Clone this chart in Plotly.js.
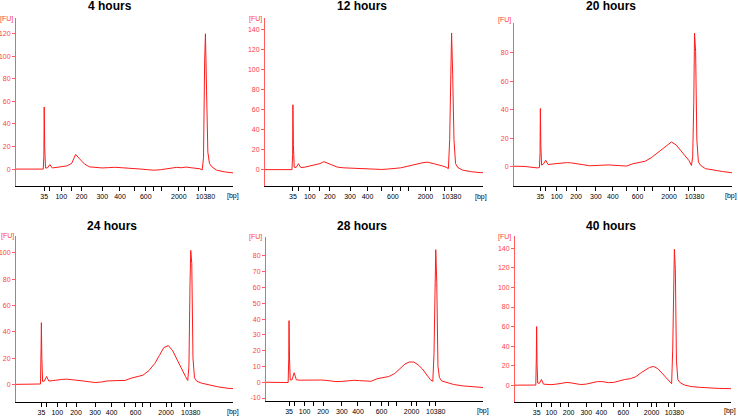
<!DOCTYPE html>
<html>
<head>
<meta charset="utf-8">
<script src="https://cdn.plot.ly/plotly-3.0.1.min.js"></script>
<style>html,body{margin:0;padding:0;background:#fff}#chart{width:738px;height:418px}</style>
</head>
<body>
<div id="chart"></div>
<script>
// Panel titles
const titles = ["4 hours", "12 hours", "20 hours", "24 hours", "28 hours", "40 hours"];

// Ladder (bp) tick labels and their migration positions (35 bp = 0, 10380 bp = 100)
const ladderPos  = [0, 3.5, 10.6, 17, 23.2, 36, 47, 55.7, 63, 67.6, 73, 83.5, 87, 95.8, 100];
const ladderText = ["35", "", "100", "", "200", "300", "400", "", "600", "", "", "2000", "", "", "10380"];

// Y tick values [FU] per panel
const yTicks4h  = [0, 20, 40, 60, 80, 100, 120];
const yTicks12h = [0, 20, 40, 60, 80, 100, 120, 140];
const yTicks20h = [0, 20, 40, 60, 80];
const yTicks24h = [0, 20, 40, 60, 80, 100];
const yTicks28h = [-10, 0, 10, 20, 30, 40, 50, 60, 70, 80];
const yTicks40h = [0, 20, 40, 60, 80, 100, 120, 140];
const yTicks = [yTicks4h, yTicks12h, yTicks20h, yTicks24h, yTicks28h, yTicks40h];

// Migration position of each sample point (shared by all panels)
const migration = [-18, -10, -2, -0.6, -0.2, 0, 0.3, 0.8, 2, 3.5,
  5, 7.5, 10.5, 14, 17, 19.5, 22, 25, 28, 32,
  36, 40, 44, 48, 52, 56, 60, 64, 68, 72,
  76, 79, 82, 85, 88, 91, 94, 96.5, 98, 98.8,
  99.5, 100, 100.7, 101.5, 102.5, 104, 107, 112, 118, 125,
  133, 142];

// Fluorescence [FU] for each panel
const fu4h = [0, 0, -0.2, 0, 12, 55, 20, 1, 1, 4,
  1, 1.5, 2, 2.8, 5, 13, 9, 4.5, 2, 1.2,
  1, 1.3, 1.6, 1.2, 0.6, 0.3, 0, -0.5, -1, -0.6,
  0, 0.8, 1.5, 1.2, 1.8, 1.2, 0.8, 0.3, -0.8, 10,
  95, 120, 70, 15, 5, 2, -1, -2.5, -3.5, -4,
  -4, -4];
const fu12h = [0, 0.2, 0, 0, 15, 65, 25, 2.5, 2, 6,
  2, 2.5, 3.7, 4.5, 6, 8, 6.5, 4, 2.5, 1.8,
  1.5, 1.2, 1, 0.8, 0.5, 0.2, 0.6, 1, 1.8, 3.3,
  5, 6, 7, 7.5, 6.4, 5.2, 3.8, 2.5, 1, 30,
  100, 137, 95, 30, 6, 2, -0.5, -2, -3, -3.2,
  -3.2, -3.2];
const fu20h = [0.5, 0.3, -0.7, -0.5, 10, 41, 15, 1.2, 2, 4.7,
  1.6, 2, 2.4, 2.7, 3, 2.9, 2.6, 2.2, 1.5, 0.8,
  0.8, 1.2, 1.4, 1.3, 1, 0.6, 2.2, 3, 4, 6.5,
  10, 12.8, 15.5, 17.5, 15.5, 11.5, 7.5, 4.3, 1, 7,
  45, 94, 81, 19, 3.5, 1, -1.2, -2.2, -3.2, -4.2,
  -4.5, -4.5];
const fu24h = [0, 0, 0.2, 0.3, 28, 47, 20, 2.3, 2.5, 6,
  2.5, 3, 3.5, 3.8, 4, 3.8, 3.4, 3, 2.6, 2,
  1.4, 1.8, 2.6, 2.8, 2.7, 3, 4.7, 5.8, 7, 10.5,
  16, 22, 28, 29.5, 25.5, 18.5, 11, 6, 3, 14,
  75, 102, 92, 20, 5, 2.5, 1, -0.5, -1.8, -3,
  -3.8, -4];
const fu28h = [0, 0, -0.2, -0.2, 15, 39, 16, 1.5, 1.5, 6,
  1.5, 1.3, 1.3, 1.5, 1.7, 1.6, 1.4, 1.2, 0.8, 0.4,
  0.5, 0.8, 1.2, 1, 0.6, 0.6, 2.2, 3, 3.6, 5.5,
  9, 11.5, 12.8, 12.8, 11, 8.3, 4.5, 1.5, 0.6, 18,
  57, 84, 63, 10, 3, 0.8, 0, -1.4, -2.3, -3,
  -3.4, -3.4];
const fu40h = [0.2, 0.3, 0.3, 0.3, 30, 60, 22, 2.4, 2, 6,
  1.2, 0.8, 0.7, 1.2, 2, 2.8, 3, 2.5, 1.5, 0.8,
  1.3, 2.4, 3.8, 3.8, 2.8, 3, 4.8, 6, 6.8, 8.8,
  13, 16, 18.3, 19.3, 17, 12.5, 7.5, 4, 1.7, 37,
  112, 139, 118, 25, 6, 3, 0.5, -1.2, -2, -2.8,
  -3.2, -3.4];
const series = [fu4h, fu12h, fu20h, fu24h, fu28h, fu40h];

// Layout geometry per panel (pixels)
const W = 738, H = 418;
const boxes = [
  {l: 16, r: 233, t: 18, b: 186, xr: [-17.5, 117.1], yr: [-15, 134], tx: 110, ty: 6, fx: 6.5, fy: 19.5, bx: 232.5, by: 196},
  {l: 265, r: 483, t: 18, b: 186, xr: [-17.6, 119.8], yr: [-16.4, 152], tx: 362, ty: 6, fx: 255, fy: 19.5, bx: 481, by: 196.5},
  {l: 514, r: 732, t: 23, b: 186, xr: [-17.1, 124.3], yr: [-13.4, 101], tx: 611, ty: 6, fx: 504, fy: 20, bx: 731, by: 196},
  {l: 16, r: 233, t: 236, b: 402, xr: [-17.0, 128.3], yr: [-13.4, 112.9], tx: 112, ty: 225.5, fx: 7, fy: 236, bx: 232.5, by: 411.5},
  {l: 266, r: 483, t: 237, b: 401, xr: [-15.7, 132.2], yr: [-11.9, 92], tx: 362, ty: 226, fx: 255.5, fy: 236.5, bx: 483, by: 410.5},
  {l: 515, r: 731, t: 236, b: 402, xr: [-15.7, 141.1], yr: [-17, 152.5], tx: 611, ty: 226, fx: 504, fy: 236.5, bx: 730, by: 411}
];

const tickFont = "Liberation Sans Narrow, Arial Narrow, Liberation Sans, Arial, sans-serif";
const data = [];
const layout = {
  width: W, height: H,
  margin: {l: 0, r: 0, t: 0, b: 0},
  paper_bgcolor: "#ffffff", plot_bgcolor: "#ffffff",
  showlegend: false,
  annotations: []
};

boxes.forEach((b, i) => {
  const n = i === 0 ? "" : String(i + 1);
  data.push({
    type: "scatter", mode: "lines",
    x: migration, y: series[i],
    xaxis: "x" + n, yaxis: "y" + n,
    line: {color: "#ff1a1a", width: 1},
    hoverinfo: "skip"
  });
  layout["xaxis" + n] = {
    domain: [b.l / W, b.r / W], range: b.xr, anchor: "y" + n,
    tickmode: "array", tickvals: ladderPos, ticktext: ladderText,
    showline: true, linecolor: "#000000", linewidth: 1,
    ticks: "outside", ticklen: 4, tickcolor: "#000000", tickwidth: 1,
    tickfont: {family: tickFont, size: 7, color: "#000000"},
    showgrid: false, zeroline: false, fixedrange: true
  };
  layout["yaxis" + n] = {
    domain: [1 - b.b / H, 1 - b.t / H], range: b.yr, anchor: "x" + n,
    tickmode: "array", tickvals: yTicks[i], ticktext: yTicks[i].map(String),
    showline: true, linecolor: "#ff5c5c", linewidth: 1,
    ticks: "outside", ticklen: 3, tickcolor: "#ff5c5c", tickwidth: 1,
    tickfont: {family: tickFont, size: 7, color: "#ff4040"},
    showgrid: false, zeroline: false, fixedrange: true
  };
  layout.annotations.push({
    text: "<b>" + titles[i] + "</b>", xref: "paper", yref: "paper",
    x: b.tx / W, y: 1 - b.ty / H, xanchor: "center", yanchor: "middle",
    showarrow: false, font: {family: "Liberation Sans, Arial, sans-serif", size: 12, color: "#000000"}
  });
  layout.annotations.push({
    text: "[FU]", xref: "paper", yref: "paper",
    x: b.fx / W, y: 1 - b.fy / H, xanchor: "center", yanchor: "middle",
    showarrow: false, font: {family: tickFont, size: 7, color: "#ff4040"}
  });
  layout.annotations.push({
    text: "[bp]", xref: "paper", yref: "paper",
    x: b.bx / W, y: 1 - b.by / H, xanchor: "center", yanchor: "middle",
    showarrow: false, font: {family: tickFont, size: 7, color: "#000000"}
  });
});

Plotly.newPlot("chart", data, layout, {displayModeBar: false, staticPlot: true});
</script>
</body>
</html>
